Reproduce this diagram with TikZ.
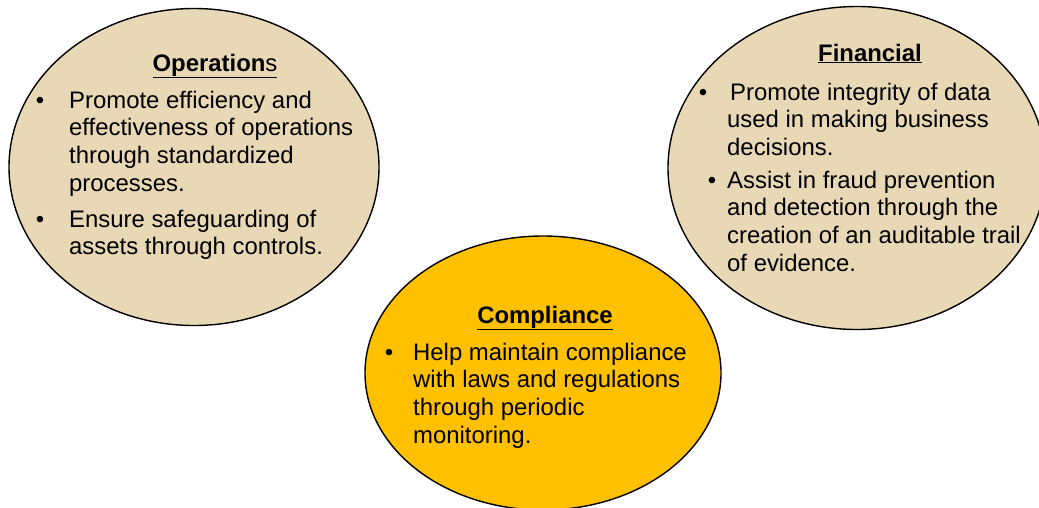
\documentclass[tikz,border=0pt]{standalone}
\usepackage{fontspec}
\setmainfont{Liberation Sans}
\usetikzlibrary{shapes.geometric}
\definecolor{parch}{RGB}{232,216,182}
\definecolor{gold}{RGB}{255,192,0}
\newcommand{\bodyfont}{\fontsize{23.9}{27.8}\selectfont}
\tikzset{
	oval/.style={draw=black, line width=1.4pt, ellipse, inner sep=0pt},
	head/.style={font=\bodyfont\bfseries, inner sep=0pt, anchor=base},
	body/.style={font=\bodyfont, align=left, inner sep=0pt, anchor=base west},
	bul/.style={font=\bodyfont, inner sep=0pt, anchor=base}
}
\begin{document}
\begin{tikzpicture}[x=1pt,y=-1pt]
		\useasboundingbox (0,0) rectangle (1039,507);
		% the three ovals
		\node[oval, fill=parch, minimum width=370, minimum height=317] (ops) at (194,167) {};
		\node[oval, fill=parch, minimum width=378, minimum height=323] (fin) at (857,168) {};
		\node[oval, fill=gold, minimum width=356, minimum height=274] (comp) at (543,373) {};

		% operations (base of a block = its last line)
		\node[head] (opsT) at (215,71) {\underline{Operation\mdseries s}};
		\node[bul] (opsB1) at (40,108) {\textbullet};
		\node[body] (ops1) at (69,191.4) {Promote efficiency and\\effectiveness of operations\\through standardized\\processes.};
		\node[bul] (opsB2) at (40,227) {\textbullet};
		\node[body] (ops2) at (69,254.8) {Ensure safeguarding of\\assets through controls.};

		% financial
		\node[head] (finT) at (870,61) {\underline{Financial}};
		\node[bul] (finB1) at (703,100) {\textbullet};
		\node[body] (fin1) at (727,155.6) {\hspace{3pt}Promote integrity of data\\used in making business\\decisions.};
		\node[bul] (finB2) at (712,188) {\textbullet};
		\node[body] (fin2) at (727,271.4) {Assist in fraud prevention\\and detection through the\\creation of an auditable trail\\of evidence.};

		% compliance
		\node[head] (compT) at (545,323) {\underline{Compliance}};
		\node[bul] (compB1) at (389,360) {\textbullet};
		\node[body] (comp1) at (413,443.4) {Help maintain compliance\\with laws and regulations\\through periodic\\monitoring.};
\end{tikzpicture}
\end{document}
